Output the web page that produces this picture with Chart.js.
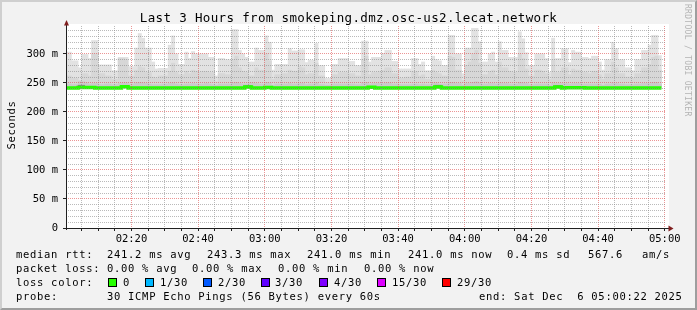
<!DOCTYPE html>
<html>
<head>
<meta charset="utf-8">
<script src="https://cdn.jsdelivr.net/npm/chart.js@4/dist/chart.umd.min.js"></script>
<style>
  html, body { margin: 0; padding: 0; background: #f2f2f2; }
  #wrap { position: relative; width: 697px; height: 310px; background: #f2f2f2; overflow: hidden; }
  #frame { position: absolute; left: 0; top: 0; width: 697px; height: 310px; box-sizing: border-box;
           border-top: 2px solid #cfcfcf; border-left: 2px solid #cfcfcf;
           border-right: 2px solid #9e9e9e; border-bottom: 2px solid #9e9e9e; pointer-events: none; }
  canvas { position: absolute; left: 0; top: 0; }
  .t { position: absolute; font-family: "DejaVu Sans Mono", monospace; white-space: pre; color: #000;
       font-size: 10.5px; letter-spacing: 0.7px; line-height: 14px; }
  .box { position: absolute; width: 7px; height: 7px; border: 1px solid #000; }
  #title { left: 0; width: 697px; top: 11px; text-align: center; font-size: 12.5px; letter-spacing: 0.35px; }
  #ylab { left: -39px; top: 118px; width: 100px; text-align: center; transform: rotate(-90deg); font-size: 10.5px; }
  #rrd { left: 682px; top: 4px; writing-mode: vertical-rl; font-size: 8px; letter-spacing: 0.3px; color: #b4b4b4; line-height: 10px; }
</style>
</head>
<body>
<div id="wrap">
  <canvas id="chart" width="697" height="310"></canvas>
  <div class="t" id="title">Last 3 Hours from smokeping.dmz.osc-us2.lecat.network</div>
  <div class="t" id="ylab">Seconds</div>
  <div class="t" id="rrd">RRDTOOL / TOBI OETIKER</div>

  <div class="t" style="left:16px;top:247px">median rtt:</div>
  <div class="t" style="left:107px;top:247px">241.2 ms avg</div>
  <div class="t" style="left:207px;top:247px">243.3 ms max</div>
  <div class="t" style="left:307px;top:247px">241.0 ms min</div>
  <div class="t" style="left:408px;top:247px">241.0 ms now</div>
  <div class="t" style="left:507px;top:247px">0.4 ms sd</div>
  <div class="t" style="left:588px;top:247px">567.6</div>
  <div class="t" style="left:642px;top:247px">am/s</div>

  <div class="t" style="left:16px;top:261px">packet loss:</div>
  <div class="t" style="left:107px;top:261px">0.00 % avg</div>
  <div class="t" style="left:192px;top:261px">0.00 % max</div>
  <div class="t" style="left:278px;top:261px">0.00 % min</div>
  <div class="t" style="left:364px;top:261px">0.00 % now</div>

  <div class="t" style="left:16px;top:275px">loss color:</div>
  <div class="box" style="left:108px;top:278px;background:#26ff00"></div>
  <div class="t" style="left:123px;top:275px">0</div>
  <div class="box" style="left:145px;top:278px;background:#00b8ff"></div>
  <div class="t" style="left:160px;top:275px">1/30</div>
  <div class="box" style="left:203px;top:278px;background:#0059ff"></div>
  <div class="t" style="left:218px;top:275px">2/30</div>
  <div class="box" style="left:261px;top:278px;background:#5e00ff"></div>
  <div class="t" style="left:275px;top:275px">3/30</div>
  <div class="box" style="left:319px;top:278px;background:#7e00ff"></div>
  <div class="t" style="left:334px;top:275px">4/30</div>
  <div class="box" style="left:377px;top:278px;background:#dd00ff"></div>
  <div class="t" style="left:392px;top:275px">15/30</div>
  <div class="box" style="left:442px;top:278px;background:#ff0000"></div>
  <div class="t" style="left:457px;top:275px">29/30</div>

  <div class="t" style="left:16px;top:289px">probe:</div>
  <div class="t" style="left:107px;top:289px">30 ICMP Echo Pings (56 Bytes) every 60s</div>
  <div class="t" style="left:479px;top:289px">end: Sat Dec  6 05:00:22 2025</div>
  <div id="frame"></div>
</div>
<script>
// one value per minute, starting 02:00
const medianRtt = [
  241.0, 241.0, 241.0, 241.0, 242.0, 242.0, 242.0, 242.0, 242.0, 241.0,
  241.0, 241.0, 241.0, 241.0, 241.0, 241.0, 241.0, 243.3, 243.3, 241.0,
  241.0, 241.0, 241.0, 241.0, 241.0, 241.0, 241.0, 241.0, 241.0, 241.0,
  241.0, 241.0, 241.0, 241.0, 241.0, 241.0, 241.0, 241.0, 241.0, 241.0,
  241.0, 241.0, 241.0, 241.0, 241.0, 241.0, 241.0, 241.0, 241.0, 241.0,
  241.0, 241.0, 241.0, 241.0, 243.0, 243.0, 241.0, 241.0, 241.0, 241.0,
  242.0, 242.0, 241.0, 241.0, 241.0, 241.0, 241.0, 241.0, 241.0, 241.0,
  241.0, 241.0, 241.0, 241.0, 241.0, 241.0, 241.0, 241.0, 241.0, 241.0,
  241.0, 241.0, 241.0, 241.0, 241.0, 241.0, 241.0, 241.0, 241.0, 241.0,
  241.0, 242.5, 242.5, 241.0, 241.0, 241.0, 241.0, 241.0, 241.0, 241.0,
  241.0, 241.0, 241.0, 241.0, 241.0, 241.0, 241.0, 241.0, 241.0, 241.0,
  241.0, 242.8, 242.8, 241.0, 241.0, 241.0, 241.0, 241.0, 241.0, 241.0,
  241.0, 241.0, 241.0, 241.0, 241.0, 241.0, 241.0, 241.0, 241.0, 241.0,
  241.0, 241.0, 241.0, 241.0, 241.0, 241.0, 241.0, 241.0, 241.0, 241.0,
  241.0, 241.0, 241.0, 241.0, 241.0, 241.0, 241.0, 243.0, 243.0, 241.0,
  241.5, 241.5, 241.5, 241.5, 241.5, 241.5, 241.0, 241.0, 241.0, 241.0,
  241.0, 241.0, 241.0, 241.0, 241.0, 241.0, 241.0, 241.0, 241.0, 241.0,
  241.0, 241.0, 241.0, 241.0, 241.0, 241.0, 241.0, 241.0, 241.0
];
const smokeMax = [
  303, 303, 288, 288, 276, 299, 299, 292, 323, 323,
  281, 281, 281, 281, 271, 271, 294, 294, 294, 278,
  278, 310, 335, 327, 310, 310, 286, 274, 275, 275,
  275, 315, 331, 300, 282, 282, 303, 292, 304, 300,
  300, 300, 300, 294, 294, 262, 292, 292, 290, 290,
  342, 342, 306, 300, 294, 286, 286, 310, 306, 306,
  331, 320, 272, 282, 282, 282, 282, 309, 305, 305,
  307, 307, 285, 289, 289, 318, 280, 280, 258, 258,
  282, 282, 292, 292, 292, 287, 287, 280, 280, 322,
  322, 286, 294, 294, 294, 301, 306, 306, 287, 287,
  274, 274, 274, 274, 292, 292, 282, 286, 271, 271,
  296, 290, 288, 280, 280, 332, 332, 300, 300, 266,
  310, 310, 344, 344, 321, 286, 286, 300, 303, 286,
  321, 306, 306, 294, 294, 294, 338, 326, 302, 280,
  280, 300, 300, 300, 292, 268, 327, 292, 292, 309,
  309, 285, 306, 303, 303, 294, 294, 292, 296, 296,
  286, 272, 290, 290, 320, 309, 290, 290, 276, 276,
  271, 290, 290, 306, 306, 315, 332, 332, 297
];
const smokeMid = [
  262, 262, 258, 258, 254, 266, 266, 262, 300, 300,
  266, 266, 262, 262, 256, 256, 292, 292, 290, 262,
  262, 272, 278, 276, 268, 268, 260, 258, 262, 262,
  262, 270, 284, 268, 264, 264, 270, 266, 272, 270,
  268, 270, 270, 268, 268, 252, 266, 266, 264, 264,
  290, 296, 276, 270, 268, 262, 262, 276, 272, 272,
  300, 288, 256, 264, 264, 266, 266, 272, 270, 270,
  278, 276, 264, 266, 266, 284, 262, 262, 250, 250,
  264, 264, 268, 268, 268, 266, 266, 262, 262, 290,
  296, 264, 268, 268, 270, 272, 276, 276, 266, 266,
  258, 258, 260, 260, 270, 270, 262, 264, 256, 256,
  272, 268, 266, 262, 262, 296, 294, 272, 272, 254,
  280, 286, 300, 306, 284, 264, 264, 270, 272, 264,
  286, 276, 276, 270, 268, 268, 300, 292, 274, 262,
  262, 272, 272, 270, 266, 256, 290, 268, 268, 276,
  276, 264, 274, 272, 272, 268, 268, 266, 270, 270,
  264, 256, 266, 266, 286, 276, 266, 266, 260, 260,
  258, 266, 266, 276, 276, 282, 294, 296, 272
];
const smokeCore = [
  248, 248, 247, 247, 252, 252, 250, 248, 249, 249,
  247, 247, 248, 248, 247, 247, 249, 250, 250, 248,
  248, 250, 251, 250, 249, 248, 247, 247, 247, 248,
  248, 249, 250, 248, 247, 247, 248, 248, 249, 248,
  248, 248, 249, 248, 247, 246, 248, 248, 248, 248,
  250, 251, 249, 248, 248, 250, 250, 249, 248, 248,
  251, 250, 246, 248, 248, 248, 248, 249, 248, 248,
  249, 249, 247, 248, 248, 250, 247, 247, 246, 246,
  248, 248, 248, 248, 248, 248, 248, 247, 247, 250,
  251, 248, 249, 249, 249, 249, 250, 250, 248, 248,
  247, 247, 247, 247, 248, 248, 247, 248, 247, 247,
  250, 250, 248, 248, 248, 251, 251, 249, 249, 246,
  249, 249, 251, 252, 250, 248, 248, 249, 249, 248,
  250, 249, 249, 248, 248, 248, 251, 250, 249, 247,
  247, 248, 248, 248, 248, 246, 250, 249, 249, 249,
  249, 248, 249, 249, 249, 248, 248, 248, 248, 248,
  248, 246, 248, 248, 250, 249, 248, 248, 247, 247,
  247, 248, 248, 249, 249, 249, 251, 251, 248
];
// darkest smoke right at the median (only a few minutes)
const smokeDenseMinutes = [4, 5, 17, 18, 54, 55, 111, 112, 147, 148];
const smokeDenseTop = [246, 246, 245.5, 245.5, 245.5, 245.5, 246, 246, 245.5, 245.5];

const timeLabelMinutes = [20, 40, 60, 80, 100, 120, 140, 160, 180];
const timeLabels = ["02:20", "02:40", "03:00", "03:20", "03:40", "04:00", "04:20", "04:40", "05:00"];
const yLabelValues = [0, 50, 100, 150, 200, 250, 300];
const yLabels = ["0", "50 m", "100 m", "150 m", "200 m", "250 m", "300 m"];

const GRID = "rgba(140,140,140,0.6)";
const MGRID = "rgba(222,79,79,0.6)";
const FONT = "'DejaVu Sans Mono', monospace";

function floating(top) {
  return top.map((v, i) => ({ x: i + 0.5, y: [medianRtt[i], v] }));
}

const plotBack = {
  id: "plotBack",
  beforeDraw(chart) {
    const { ctx, chartArea: a } = chart;
    ctx.save();
    ctx.fillStyle = "#fff";
    ctx.fillRect(a.left, a.top - 2, a.right - a.left + 3, a.bottom - a.top + 2);
    ctx.restore();
  },
  afterDraw(chart) {
    const { ctx, chartArea: a } = chart;
    ctx.save();
    ctx.strokeStyle = "#1f1f1f";
    ctx.lineWidth = 1;
    ctx.beginPath();
    ctx.moveTo(a.left + 0.5, a.bottom + 2);
    ctx.lineTo(a.left + 0.5, a.top - 4);
    ctx.moveTo(a.left - 3, a.bottom + 0.5);
    ctx.lineTo(a.right + 3, a.bottom + 0.5);
    ctx.stroke();
    ctx.fillStyle = "#801f1f";
    ctx.beginPath();
    ctx.moveTo(a.left - 2, a.top - 0.5);
    ctx.lineTo(a.left + 3, a.top - 0.5);
    ctx.lineTo(a.left + 0.5, a.top - 6);
    ctx.closePath();
    ctx.fill();
    ctx.beginPath();
    ctx.moveTo(a.right + 2.5, a.bottom - 2.5);
    ctx.lineTo(a.right + 2.5, a.bottom + 3.5);
    ctx.lineTo(a.right + 7.5, a.bottom + 0.5);
    ctx.closePath();
    ctx.fill();
    ctx.restore();
  }
};

const ctx = document.getElementById("chart").getContext("2d");
const chart = new Chart(ctx, {
  type: "bar",
  data: {
    datasets: [
      {
        type: "line",
        label: "median rtt",
        data: medianRtt.map((v, i) => ({ x: i, y: v })).concat([{ x: medianRtt.length, y: medianRtt[medianRtt.length - 1] }]),
        stepped: true,
        borderColor: "#26ff00",
        borderWidth: 3.5,
        borderCapStyle: "butt",
        borderJoinStyle: "miter",
        pointRadius: 0,
        fill: false,
        order: 0
      },
      {
        label: "dense",
        data: smokeDenseMinutes.map((m, k) => ({ x: m + 0.5, y: [medianRtt[m], smokeDenseTop[k]] })),
        backgroundColor: "#8a8a8a",
        order: 1
      },
      { label: "core", data: floating(smokeCore), backgroundColor: "#cacaca", order: 2 },
      { label: "mid", data: floating(smokeMid), backgroundColor: "#d7d7d7", order: 3 },
      { label: "smoke", data: floating(smokeMax), backgroundColor: "#e2e2e2", order: 4 }
    ]
  },
  options: {
    responsive: false,
    animation: false,
    events: [],
    layout: { padding: { left: 0, right: 31, top: 26, bottom: 0 } },
    datasets: { bar: { grouped: false, barPercentage: 1, categoryPercentage: 1, borderWidth: 0 } },
    plugins: { legend: { display: false }, tooltip: { enabled: false }, title: { display: false } },
    scales: {
      x: {
        type: "linear",
        min: 0.37,
        max: 180.37,
        offset: false,
        afterFit: (s) => { s.height = 82; s.paddingLeft = 0; s.paddingRight = 0; },
        afterBuildTicks: (s) => {
          const t = [];
          for (let m = 5; m <= 180; m += 5) t.push({ value: m });
          s.ticks = t;
        },
        ticks: {
          autoSkip: false,
          maxRotation: 0,
          padding: 2,
          color: "#000",
          font: { family: FONT, size: 10.5 },
          callback: (v) => {
            const k = timeLabelMinutes.indexOf(v);
            return k >= 0 ? timeLabels[k] : "";
          }
        },
        grid: {
          z: 1,
          offset: false,
          lineWidth: 1,
          tickLength: 3,
          color: (c) => (c.tick && c.tick.value % 20 === 0 ? MGRID : GRID),
          tickColor: "#1f1f1f"
        },
        border: { display: false, dash: [1, 1] }
      },
      y: {
        min: 0,
        max: 348,
        afterFit: (s) => { s.width = 66; s.paddingTop = 0; s.paddingBottom = 0; },
        afterBuildTicks: (s) => {
          const t = [];
          for (let v = 0; v <= 340; v += 10) t.push({ value: v });
          s.ticks = t;
        },
        ticks: {
          autoSkip: false,
          padding: 5,
          color: "#000",
          font: { family: FONT, size: 10.5 },
          callback: (v) => {
            const k = yLabelValues.indexOf(v);
            return k >= 0 ? yLabels[k] : "";
          }
        },
        grid: {
          z: 1,
          lineWidth: 1,
          tickLength: 3,
          color: (c) => (c.tick && c.tick.value % 50 === 0 ? MGRID : GRID),
          tickColor: (c) => (c.tick && c.tick.value % 50 === 0 ? "#1f1f1f" : "rgba(0,0,0,0)")
        },
        border: { display: false, dash: [1, 1] }
      }
    }
  },
  plugins: [plotBack]
});
</script>
</body>
</html>
